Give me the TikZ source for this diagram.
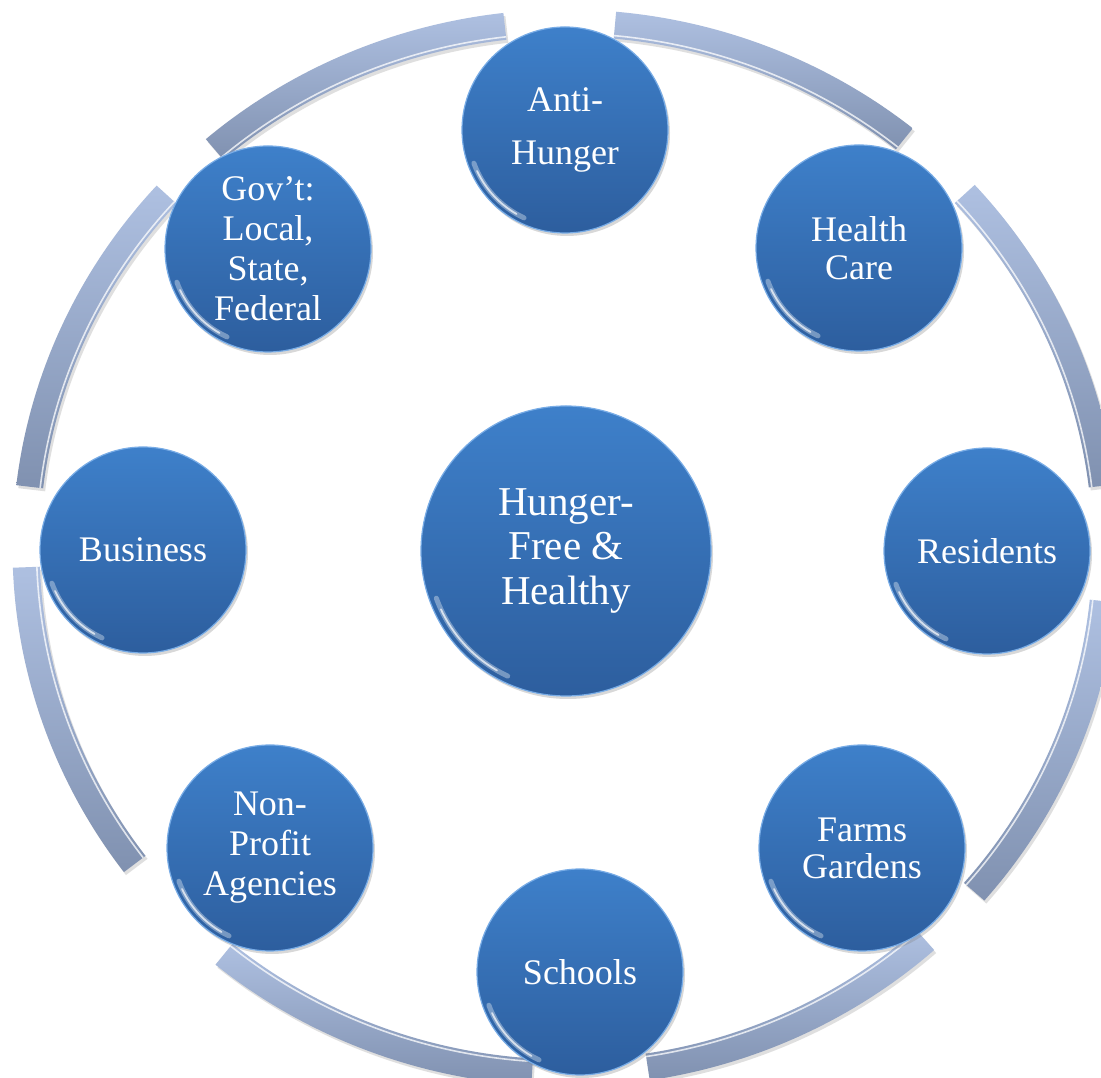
\documentclass[tikz,border=0pt]{standalone}
\usepackage{fontspec}
\setmainfont{Liberation Serif}
\usetikzlibrary{calc,shadows}
\definecolor{ctop}{RGB}{62,128,202}
\definecolor{cbot}{RGB}{45,94,158}
\definecolor{rtop}{RGB}{174,192,225}
\definecolor{rbot}{RGB}{128,145,176}
\definecolor{rimc}{RGB}{120,172,230}
\tikzset{
  bubble/.style={circle, minimum size=206pt, inner sep=0pt, top color=ctop, bottom color=cbot,
    draw=rimc, line width=1.2pt, text=white, align=center,
    drop shadow={opacity=0.3, shadow xshift=2pt, shadow yshift=-3pt}},
  hub/.style={bubble, minimum size=290pt},
  band/.style={top color=rtop, bottom color=rbot,
    drop shadow={opacity=0.25, shadow xshift=2pt, shadow yshift=-3pt}},
  bandlight/.style={white, opacity=0.75, line width=1.6pt},
  gloss/.style={white, opacity=0.35, line width=5pt, line cap=round},
  glosscore/.style={white, opacity=0.7, line width=1.8pt, line cap=round},
}
\begin{document}
\begin{tikzpicture}[x=1pt,y=1pt]
\useasboundingbox (0,0) rectangle (1101,1078);
\fill[white] (0,0) rectangle (1101,1078);
\coordinate (C) at (566,530);
% ring segments
\foreach \a/\b in {96.5/130.6, 51.2/84.8, 6.8/42.4, -40.9/-5.8, -81.3/-48.3, -129.3/-93.6, 182.1/217.0, 137.7/173.3}{
  \path[band] ($(C)+(\a:553.5 and 538.5)$) arc[start angle=\a, end angle=\b, x radius=553.5, y radius=538.5]
    -- ($(C)+(\b:526.5 and 511.5)$) arc[start angle=\b, end angle=\a, x radius=526.5, y radius=511.5] -- cycle;
  \draw[bandlight] ($(C)+(\a:529.5 and 514.5)$) arc[start angle=\a, end angle=\b, x radius=529.5, y radius=514.5];
}
% circles
\node[hub, font=\fontsize{41}{44.5}\selectfont] (hub) at (566,527) {Hunger-\\Free \&\\Healthy};
\node[bubble, font=\fontsize{36}{53}\selectfont] (anti) at (565,948) {Anti-\\Hunger};
\node[bubble, font=\fontsize{36}{38}\selectfont] (health) at (859,830) {Health\\Care};
\node[bubble, font=\fontsize{36}{38}\selectfont] (res) at (987,527) {Residents};
\node[bubble, font=\fontsize{36}{37}\selectfont] (farms) at (862,230) {Farms\\Gardens};
\node[bubble, font=\fontsize{36}{38}\selectfont] (schools) at (580,106) {Schools};
\node[bubble, font=\fontsize{36}{40}\selectfont] (np) at (270,230) {Non-\\Profit\\Agencies};
\node[bubble, font=\fontsize{36}{38}\selectfont] (bus) at (143,528) {Business};
\node[bubble, font=\fontsize{36}{40}\selectfont] (gov) at (268,829) {Gov’t:\\Local,\\State,\\Federal};
% glossy rim highlights
\foreach \n in {anti,health,res,farms,schools,np,bus,gov}{
  \draw[gloss] ($(\n.center)+(200:97)$) arc[start angle=200, end angle=245, radius=97];
  \draw[glosscore] ($(\n.center)+(205:97)$) arc[start angle=205, end angle=240, radius=97];
}
\draw[gloss] ($(hub.center)+(200:138)$) arc[start angle=200, end angle=245, radius=138];
\draw[glosscore] ($(hub.center)+(205:138)$) arc[start angle=205, end angle=240, radius=138];
\end{tikzpicture}
\end{document}
